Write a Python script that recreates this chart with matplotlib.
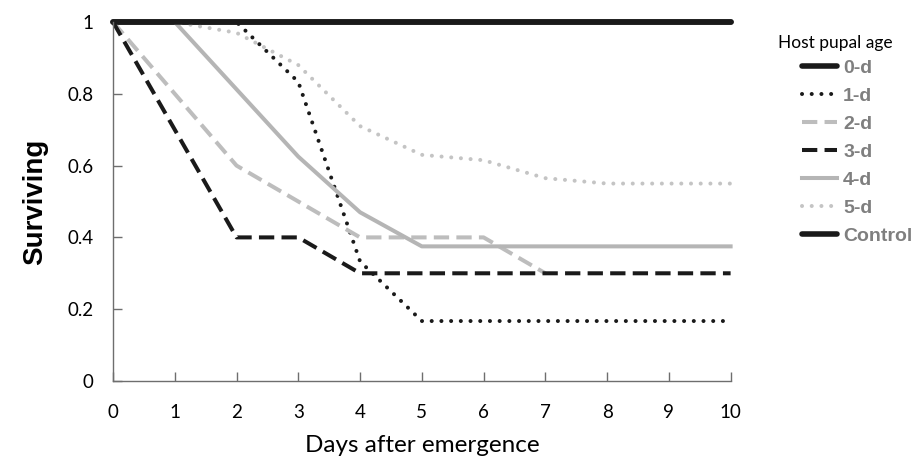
import matplotlib
matplotlib.use("Agg")
import matplotlib.pyplot as plt

days = [0, 1, 2, 3, 4, 5, 6, 7, 8, 9, 10]
days_2d = [0, 1, 2, 3, 4, 5, 6, 7]

s_0d = [1, 1, 1, 1, 1, 1, 1, 1, 1, 1, 1]
s_1d = [1, 1, 1, 0.833, 0.333, 0.167, 0.167, 0.167, 0.167, 0.167, 0.167]
s_2d = [1, 0.8, 0.6, 0.5, 0.4, 0.4, 0.4, 0.3]
s_3d = [1, 0.7, 0.4, 0.4, 0.3, 0.3, 0.3, 0.3, 0.3, 0.3, 0.3]
s_4d = [1, 1, 0.8125, 0.625, 0.47, 0.375, 0.375, 0.375, 0.375, 0.375, 0.375]
s_5d = [1, 1, 0.97, 0.88, 0.71, 0.63, 0.615, 0.565, 0.55, 0.55, 0.55]
s_ctrl = [1, 1, 1, 1, 1, 1, 1, 1, 1, 1, 1]

labels = ["0-d", "1-d", "2-d", "3-d", "4-d", "5-d", "Control"]
xticks = [0, 1, 2, 3, 4, 5, 6, 7, 8, 9, 10]
yticks = [0, 0.2, 0.4, 0.6, 0.8, 1]
ytick_labels = ["0", "0.2", "0.4", "0.6", "0.8", "1"]

BLACK = "#1a1a1a"
fig = plt.figure(figsize=(9.19, 4.59), dpi=100)
ax = fig.add_axes([0.123, 0.170, 0.672, 0.782])

lw = 2.9
dot = dict(dashes=(0.01, 2.4), dash_capstyle="round", solid_capstyle="round")
dash = dict(dashes=(3.8, 1.8), dash_capstyle="butt")

h = []
h += ax.plot(days, s_0d, color=BLACK, lw=4, clip_on=False, solid_capstyle="round", label=labels[0])
h += ax.plot(days, s_1d, color=BLACK, lw=lw, clip_on=False, label=labels[1], **dot)
h += ax.plot(days_2d, s_2d, color="#bdbdbd", lw=lw, clip_on=False, label=labels[2], **dash)
h += ax.plot(days, s_3d, color=BLACK, lw=lw, clip_on=False, label=labels[3], **dash)
h += ax.plot(days, s_4d, color="#b5b5b5", lw=lw, clip_on=False, label=labels[4])
h += ax.plot(days, s_5d, color="#c4c4c4", lw=lw, clip_on=False, label=labels[5], **dot)
h += ax.plot(days, s_ctrl, color=BLACK, lw=4, clip_on=False, solid_capstyle="round", label=labels[6])

ax.set_xlim(0, 10)
ax.set_ylim(0, 1)
ax.set_xticks(xticks)
ax.set_xticklabels([str(t) for t in xticks])
ax.set_yticks(yticks)
ax.set_yticklabels(ytick_labels)
for s in ["top", "right"]:
    ax.spines[s].set_visible(False)
for s in ["left", "bottom"]:
    ax.spines[s].set_color("#6e6e6e")
    ax.spines[s].set_linewidth(1.0)
ax.tick_params(direction="in", length=6.5, width=1, color="#6e6e6e",
               labelsize=13.5, labelcolor="black")
ax.tick_params(axis="x", pad=16.5)
ax.tick_params(axis="y", pad=14)
for t in ax.get_xticklabels() + ax.get_yticklabels():
    t.set_family("Lato")

ax.set_xlabel("Days after emergence", fontsize=17.5, family="Lato", labelpad=10)
ax.set_ylabel("Surviving", fontsize=20, family="Liberation Sans", fontweight="bold", labelpad=14)

leg = fig.legend(handles=h, labels=labels, loc="upper left", bbox_to_anchor=(0.873, 0.870),
                 frameon=False, handlelength=1.8, handletextpad=0.3, labelspacing=0.53,
                 borderpad=0, borderaxespad=0,
                 prop=dict(family="Liberation Sans", weight="bold", size=14))
for t in leg.get_texts():
    t.set_color("#7f7f7f")
fig.text(0.8466, 1 - 43 / 459, "Host pupal age", fontsize=12.5, family="Lato",
         ha="left", va="center", color="black")

fig.savefig("out.png", dpi=100)
